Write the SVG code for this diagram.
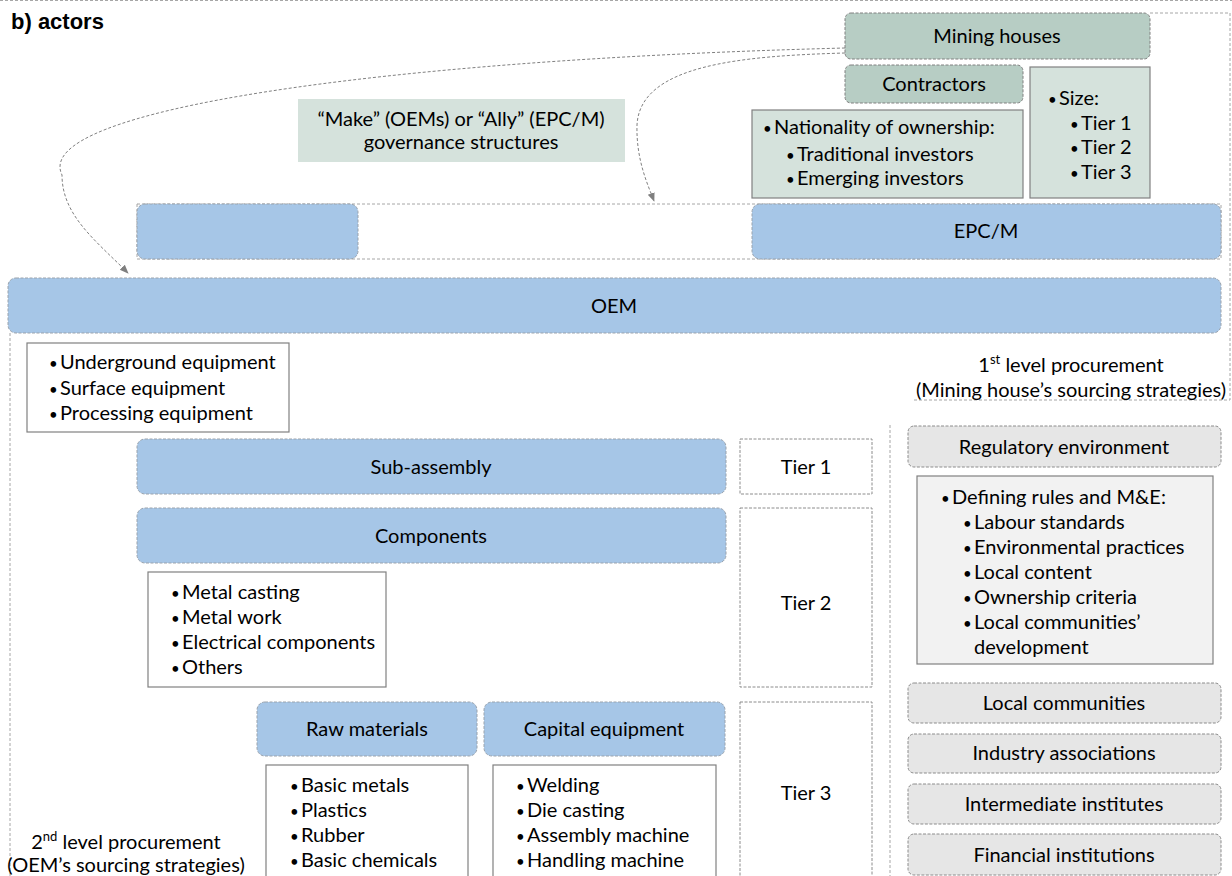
<svg xmlns="http://www.w3.org/2000/svg" width="1232" height="876" viewBox="0 0 1232 876">
<defs>
<style>
.t{font-family:Lato,"Noto Sans",sans-serif;font-size:20px;fill:#000}
.c{text-anchor:middle}
.b{font-size:15px}
.h{font-family:"Liberation Sans",Arial,sans-serif;font-size:22px;font-weight:bold;fill:#000}
.blue{fill:#a6c6e7;stroke:#9aa3ad;stroke-width:1;stroke-dasharray:3 1.5}
.green{fill:#b7cdc4;stroke:#808080;stroke-width:1;stroke-dasharray:3 1.5}
.pale{fill:#d5e2dc;stroke:#808080;stroke-width:1.2}
.paleb{fill:#d5e2dc;stroke:none}
.wbox{fill:#fff;stroke:#808080;stroke-width:1.2}
.tier{fill:#fff;stroke:#8c8c8c;stroke-width:1;stroke-dasharray:3 1.5}
.grey{fill:#e6e6e6;stroke:#8c8c8c;stroke-width:1;stroke-dasharray:3 1.5}
.lt{fill:#f2f2f2;stroke:#808080;stroke-width:1.2}
.frame{fill:none;stroke:#a6a6a6;stroke-width:1;stroke-dasharray:3 2}
.conn{fill:none;stroke:#808080;stroke-width:1;stroke-dasharray:3 2;marker-end:url(#ah)}
</style>
<marker id="ah" viewBox="0 0 10 10" refX="9" refY="5" markerWidth="9" markerHeight="9" orient="auto" markerUnits="userSpaceOnUse">
<path d="M0,1 L10,5 L0,9 z" fill="#7f7f7f"/>
</marker>
</defs>
<rect width="1232" height="876" fill="#fff"/>
<line x1="0" y1="0.5" x2="1232" y2="0.5" class="frame"/>
<text class="h" x="11" y="29">b) actors</text>

<g id="frames">
<path class="frame" d="M1150,13 H1230 V400 H912"/>
<line class="frame" x1="10" y1="333" x2="10" y2="876"/>
<line class="frame" x1="890" y1="425" x2="890" y2="876"/>
<rect class="frame" x="137" y="204" width="1084" height="55"/>
</g>

<g id="connectors">
<path class="conn" d="M845,48 C380,60 30,110 62,175 C62,215 95,240 128,273"/>
<path class="conn" d="M845,53 C740,56 640,65 637,125 C636,160 648,185 654,201"/>
</g>

<g id="mining-houses">
<rect class="green" x="845" y="13" width="305" height="46" rx="6"/>
<text class="t c" x="997" y="43">Mining houses</text>
</g>
<g id="contractors">
<rect class="green" x="845" y="65" width="178" height="38" rx="6"/>
<text class="t c" x="934" y="91">Contractors</text>
</g>
<g id="nationality">
<rect class="pale" x="752" y="110" width="271" height="88"/>
<text class="t" y="134"><tspan class="b" x="763">•</tspan><tspan x="774">Nationality of ownership:</tspan></text>
<text class="t" y="161"><tspan class="b" x="786">•</tspan><tspan x="797">Traditional investors</tspan></text>
<text class="t" y="185"><tspan class="b" x="786">•</tspan><tspan x="797">Emerging investors</tspan></text>
</g>
<g id="size">
<rect class="pale" x="1030" y="67" width="120" height="131"/>
<text class="t" y="105"><tspan class="b" x="1048">•</tspan><tspan x="1059">Size:</tspan></text>
<text class="t" y="130"><tspan class="b" x="1070">•</tspan><tspan x="1081">Tier 1</tspan></text>
<text class="t" y="154"><tspan class="b" x="1070">•</tspan><tspan x="1081">Tier 2</tspan></text>
<text class="t" y="179"><tspan class="b" x="1070">•</tspan><tspan x="1081">Tier 3</tspan></text>
</g>
<g id="governance">
<rect class="paleb" x="298" y="99" width="327" height="63"/>
<text class="t c" x="461" y="126">“Make” (OEMs) or “Ally” (EPC/M)</text>
<text class="t c" x="461" y="149">governance structures</text>
</g>
<g id="epcm-left">
<rect class="blue" x="137" y="204" width="221" height="55" rx="8"/>
</g>
<g id="epcm">
<rect class="blue" x="752" y="204" width="469" height="55" rx="8"/>
<text class="t c" x="986" y="238">EPC/M</text>
</g>
<g id="oem">
<rect class="blue" x="8" y="278" width="1213" height="55" rx="8"/>
<text class="t c" x="614" y="313">OEM</text>
</g>
<g id="oem-products">
<rect class="wbox" x="27" y="343" width="262" height="89"/>
<text class="t" y="369"><tspan class="b" x="49">•</tspan><tspan x="60">Underground equipment</tspan></text>
<text class="t" y="395"><tspan class="b" x="49">•</tspan><tspan x="60">Surface equipment</tspan></text>
<text class="t" y="420"><tspan class="b" x="49">•</tspan><tspan x="60">Processing equipment</tspan></text>
</g>
<g id="first-level">
<text class="t c" x="1071" y="372">1<tspan font-size="13" dy="-8">st</tspan><tspan dy="8"> level procurement</tspan></text>
<text class="t c" x="1071" y="397">(Mining house’s sourcing strategies)</text>
</g>
<g id="sub-assembly">
<rect class="blue" x="137" y="439" width="589" height="55" rx="8"/>
<text class="t c" x="431" y="474">Sub-assembly</text>
</g>
<g id="tier1">
<rect class="tier" x="740" y="439" width="132" height="55"/>
<text class="t c" x="806" y="474">Tier 1</text>
</g>
<g id="components">
<rect class="blue" x="137" y="508" width="589" height="55" rx="8"/>
<text class="t c" x="431" y="543">Components</text>
</g>
<g id="tier2">
<rect class="tier" x="740" y="508" width="132" height="179"/>
<text class="t c" x="806" y="610">Tier 2</text>
</g>
<g id="component-types">
<rect class="wbox" x="148" y="572" width="238" height="115"/>
<text class="t" y="599"><tspan class="b" x="171">•</tspan><tspan x="182">Metal casting</tspan></text>
<text class="t" y="624"><tspan class="b" x="171">•</tspan><tspan x="182">Metal work</tspan></text>
<text class="t" y="649"><tspan class="b" x="171">•</tspan><tspan x="182">Electrical components</tspan></text>
<text class="t" y="674"><tspan class="b" x="171">•</tspan><tspan x="182">Others</tspan></text>
</g>
<g id="raw-materials">
<rect class="blue" x="257" y="702" width="220" height="54" rx="8"/>
<text class="t c" x="367" y="736">Raw materials</text>
</g>
<g id="capital-equipment">
<rect class="blue" x="484" y="702" width="241" height="54" rx="8"/>
<text class="t c" x="604" y="736">Capital equipment</text>
</g>
<g id="tier3">
<rect class="tier" x="740" y="702" width="132" height="200"/>
<text class="t c" x="806" y="800">Tier 3</text>
</g>
<g id="raw-types">
<rect class="wbox" x="266" y="765" width="202" height="130"/>
<text class="t" y="792"><tspan class="b" x="290">•</tspan><tspan x="301">Basic metals</tspan></text>
<text class="t" y="817"><tspan class="b" x="290">•</tspan><tspan x="301">Plastics</tspan></text>
<text class="t" y="842"><tspan class="b" x="290">•</tspan><tspan x="301">Rubber</tspan></text>
<text class="t" y="867"><tspan class="b" x="290">•</tspan><tspan x="301">Basic chemicals</tspan></text>
</g>
<g id="capital-types">
<rect class="wbox" x="493" y="765" width="223" height="130"/>
<text class="t" y="792"><tspan class="b" x="516">•</tspan><tspan x="527">Welding</tspan></text>
<text class="t" y="817"><tspan class="b" x="516">•</tspan><tspan x="527">Die casting</tspan></text>
<text class="t" y="842"><tspan class="b" x="516">•</tspan><tspan x="527">Assembly machine</tspan></text>
<text class="t" y="867"><tspan class="b" x="516">•</tspan><tspan x="527">Handling machine</tspan></text>
</g>
<g id="second-level">
<text class="t c" x="126" y="849">2<tspan font-size="13" dy="-8">nd</tspan><tspan dy="8"> level procurement</tspan></text>
<text class="t c" x="126" y="872">(OEM’s sourcing strategies)</text>
</g>
<g id="regulatory">
<rect class="grey" x="908" y="426" width="313" height="41" rx="6"/>
<text class="t c" x="1064" y="454">Regulatory environment</text>
</g>
<g id="rules">
<rect class="lt" x="917" y="476" width="296" height="188"/>
<text class="t" y="504"><tspan class="b" x="941">•</tspan><tspan x="952">Defining rules and M&amp;E:</tspan></text>
<text class="t" y="529"><tspan class="b" x="963">•</tspan><tspan x="974">Labour standards</tspan></text>
<text class="t" y="554"><tspan class="b" x="963">•</tspan><tspan x="974">Environmental practices</tspan></text>
<text class="t" y="579"><tspan class="b" x="963">•</tspan><tspan x="974">Local content</tspan></text>
<text class="t" y="604"><tspan class="b" x="963">•</tspan><tspan x="974">Ownership criteria</tspan></text>
<text class="t" y="629"><tspan class="b" x="963">•</tspan><tspan x="974">Local communities’</tspan></text>
<text class="t" y="654"><tspan x="974">development</tspan></text>
</g>
<g id="local-communities">
<rect class="grey" x="908" y="683" width="313" height="40" rx="6"/>
<text class="t c" x="1064" y="710">Local communities</text>
</g>
<g id="industry-associations">
<rect class="grey" x="908" y="734" width="313" height="39" rx="6"/>
<text class="t c" x="1064" y="760">Industry associations</text>
</g>
<g id="intermediate-institutes">
<rect class="grey" x="908" y="784" width="313" height="40" rx="6"/>
<text class="t c" x="1064" y="811">Intermediate institutes</text>
</g>
<g id="financial-institutions">
<rect class="grey" x="908" y="834" width="313" height="41" rx="6"/>
<text class="t c" x="1064" y="862">Financial institutions</text>
</g>
</svg>
